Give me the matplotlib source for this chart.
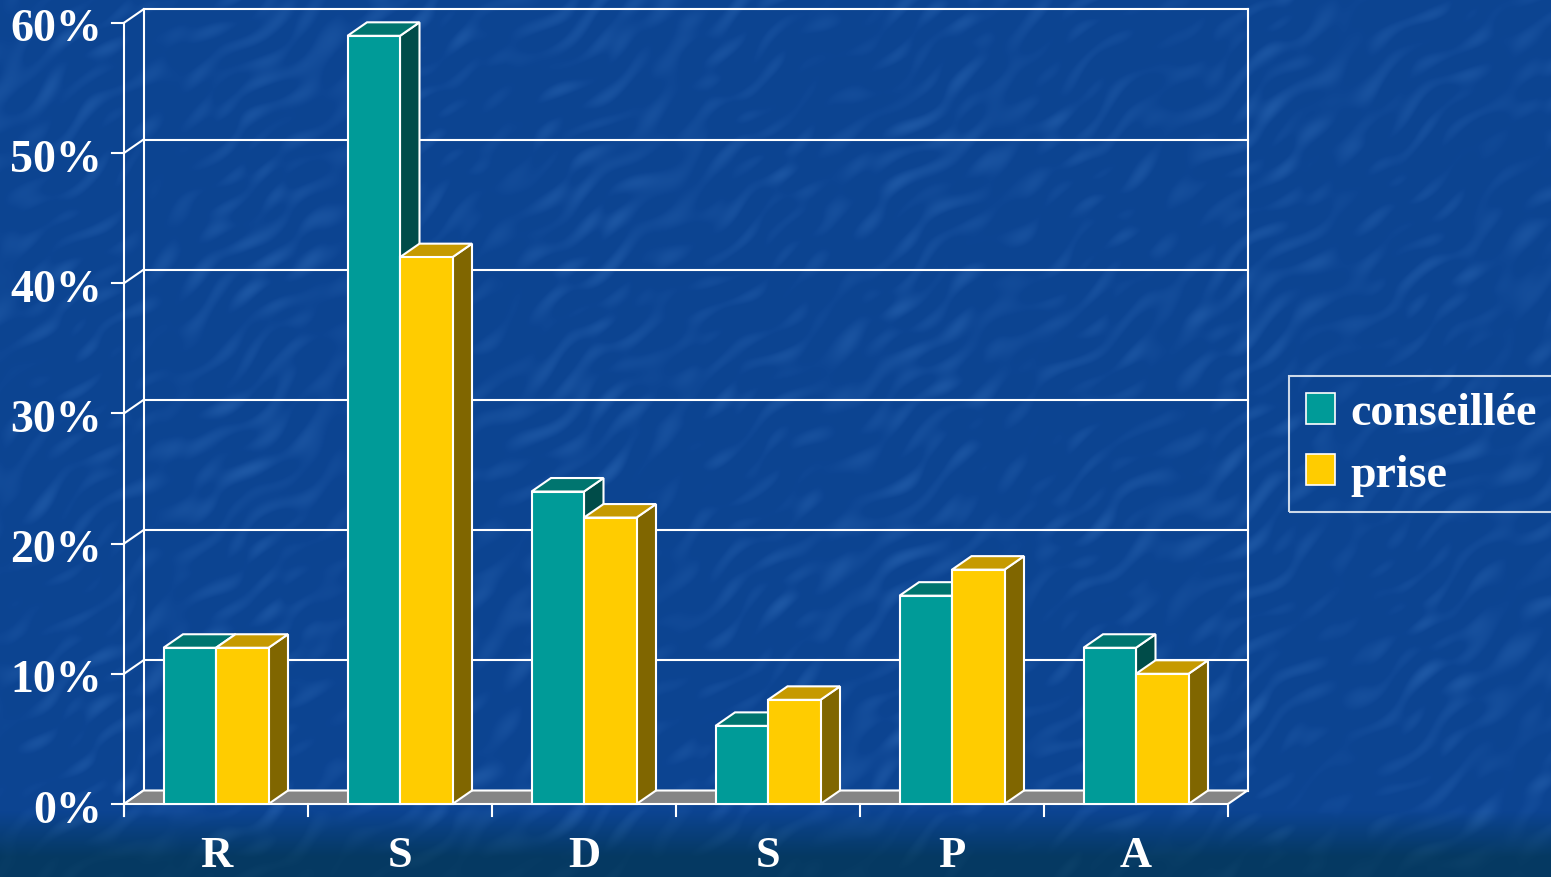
import matplotlib
matplotlib.use('Agg')
import matplotlib.pyplot as plt
from matplotlib.patches import Polygon, Patch
import numpy as np

# data
categories = ['R', 'S', 'D', 'S', 'P', 'A']
conseillee = [12, 59, 24, 6, 16, 12]
prise = [12, 42, 22, 8, 18, 10]
series_names = ['conseillée', 'prise']
yticks = [0, 10, 20, 30, 40, 50, 60]

# colours: front, top, side
teal = ('#009b98', '#00756f', '#004c49')
gold = ('#ffcc00', '#c69a00', '#806600')
floor_col = '#858585'
line_col = 'white'

W, H = 1551, 878
x0px, cat_px = 124, 184.0     # left of plot and width of one category, px
y0px, pct_px = 805, 13.02     # baseline and height of 1 %, px

plt.rcParams['font.family'] = ['Liberation Serif', 'DejaVu Serif']
plt.rcParams['font.weight'] = 'bold'

fig = plt.figure(figsize=(W / 100, H / 100), dpi=100)
ax = fig.add_axes([0, 0, 1, 1])
xlim = (-x0px / cat_px, (W - x0px) / cat_px)
ylim = (-(H - y0px) / pct_px, y0px / pct_px)
ax.set_xlim(*xlim)
ax.set_ylim(*ylim)
ax.axis('off')

# mottled blue backdrop with faint diagonal streaks
yy, xx = np.mgrid[0:H, 0:W].astype(float)
u = (xx * 0.8 - yy * 0.6)   # along streaks
v = (xx * 0.6 + yy * 0.8)   # across streaks
tex = (np.sin(v / 6.1 + 2.3 * np.sin(u / 41.0) + 1.1 * np.sin(v / 53.0)) * np.sin(u / 23.0 + np.sin(v / 31.0))
       + 0.8 * np.sin(v / 3.7 + 1.9 * np.sin(u / 19.0 + 0.7)) * np.sin(u / 67.0 + v / 89.0)
       + 0.6 * np.sin(u / 11.0 + v / 43.0) * np.sin(v / 13.0 - u / 97.0)
       + 0.5 * np.sin(xx / 83.0 + yy / 57.0) * np.sin(yy / 71.0 - xx / 139.0))
tex = np.clip(tex, 0, None) / 1.6
base = np.array([0x0c, 0x44, 0x92]) / 255.0
light = np.array([0x30, 0x6c, 0xb8]) / 255.0
dark = np.array([0x05, 0x39, 0x62]) / 255.0
bg = base + (light - base) * (tex[..., None] * 0.32)
t = np.clip((yy - 812) / 45.0, 0, 1)[..., None]
bg = bg * (1 - t) + (dark + (light - base) * tex[..., None] * 0.12) * t
ax.imshow(np.clip(bg, 0, 1), extent=(xlim[0], xlim[1], ylim[0], ylim[1]),
          aspect='auto', origin='upper', zorder=0, interpolation='bilinear')

n = len(categories)
dx = 19.5 / cat_px
dy = 13.5 / pct_px
lw = 1.5

# back wall gridlines and side connectors
for val in yticks:
    ax.plot([dx, n + dx], [val + dy, val + dy], color=line_col, lw=lw, zorder=2)
    ax.plot([0, dx], [val, val + dy], color=line_col, lw=lw, zorder=2)
ax.plot([dx, dx], [dy, 60 + dy], color=line_col, lw=lw, zorder=2)
ax.plot([n + dx, n + dx], [dy, 60 + dy], color=line_col, lw=lw, zorder=2)

# floor
ax.add_patch(Polygon([(0, 0), (n, 0), (n + dx, dy), (dx, dy)], closed=True,
                     facecolor=floor_col, edgecolor=line_col, lw=lw, zorder=3))


def bar3d(x, w, h, cols):
    front, top, side = cols
    kw = dict(closed=True, edgecolor=line_col, lw=lw, joinstyle='miter', zorder=4)
    ax.add_patch(Polygon([(x + w, 0), (x + w + dx, dy), (x + w + dx, h + dy), (x + w, h)],
                         facecolor=side, **kw))
    ax.add_patch(Polygon([(x, h), (x + w, h), (x + w + dx, h + dy), (x + dx, h + dy)],
                         facecolor=top, **kw))
    ax.add_patch(Polygon([(x, 0), (x + w, 0), (x + w, h), (x, h)],
                         facecolor=front, **kw))


bw = 52.5 / cat_px
for i in range(n):
    left = i + 0.5 - bw
    bar3d(left, bw, conseillee[i], teal)
    bar3d(left + bw, bw, prise[i], gold)

# front axes and ticks
ax.plot([0, 0], [-0.9, 60], color=line_col, lw=lw, zorder=5)
for val in yticks:
    ax.plot([-12 / cat_px, 0], [val, val], color=line_col, lw=lw, zorder=5)
    ax.text(-22 / cat_px, val - 0.5, f'{val}%', ha='right', va='center',
            color='white', fontsize=33, fontweight='bold', zorder=6)
for i in range(n + 1):
    ax.plot([i, i], [0, -0.9], color=line_col, lw=lw, zorder=5)
for i, c in enumerate(categories):
    ax.text(i + 0.5, -4.75, c, ha='center', va='baseline', color='white',
            fontsize=32, fontweight='bold', zorder=6)

handles = [Patch(facecolor=teal[0], edgecolor='white', lw=1.2),
           Patch(facecolor=gold[0], edgecolor='white', lw=1.2)]
leg = fig.legend(handles, series_names, loc='upper left',
                 bbox_to_anchor=(1289 / W, 1 - 377 / H), frameon=True,
                 fancybox=False, prop={'size': 33, 'weight': 'bold'},
                 handlelength=0.64, handleheight=0.64, handletextpad=0.33,
                 labelspacing=0.42, borderpad=0.36, borderaxespad=0)
for txt in leg.get_texts():
    txt.set_color('white')
fr = leg.get_frame()
fr.set_facecolor('none')
fr.set_edgecolor('white')
fr.set_linewidth(1.5)

fig.savefig('out.png', dpi=100)
